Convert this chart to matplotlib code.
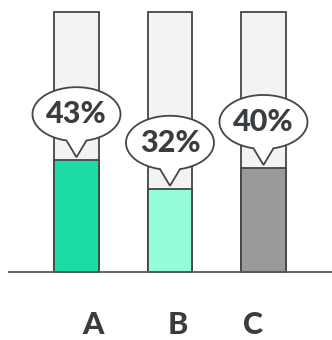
import numpy as np
import matplotlib.pyplot as plt
from matplotlib.path import Path
from matplotlib.patches import PathPatch
from matplotlib.transforms import Affine2D, ScaledTranslation

categories = ["A", "B", "C"]
values = [43, 32, 40]
total = [100, 100, 100]
colors = ["#1bdca2", "#94fddb", "#9a9a9a"]
label_shift = [16, 8, -10]   # px, category labels sit a bit off-centre

edge = "#454545"
txt = "#3a3d40"
font = "Lato"

fig = plt.figure(figsize=(3.32, 3.4), dpi=100)
ax = fig.add_axes([0, 0, 1, 1])
ax.set_xlim(-0.818, 2.733)
ax.set_ylim(-26.15, 104.6)
ax.axis("off")

x = np.arange(len(categories))
ax.bar(x, total, width=0.48, color="#f3f3f3", edgecolor=edge, linewidth=1.3, zorder=2)
ax.bar(x, values, width=0.48, color=colors, edgecolor=edge, linewidth=1.3, zorder=3)
ax.plot([-0.733, 2.733], [0, 0], color="#5a5a5a", lw=1.3, zorder=4, solid_capstyle="butt")

# speech bubble shape in pixels, tip at origin
a, b, cy, hw = 44, 27, 46, 10
t0 = -np.arccos(hw / a)
t1 = 2 * np.pi - np.arccos(-hw / a)
t = np.linspace(t0, t1, 200)
verts = list(zip(a * np.cos(t), cy + b * np.sin(t))) + [(0, 3), (a * np.cos(t0), cy + b * np.sin(t0))]
codes = [Path.MOVETO] + [Path.LINETO] * (len(verts) - 2) + [Path.CLOSEPOLY]
bubble = Path(verts, codes)

for i, v in enumerate(values):
    tr = Affine2D() + ScaledTranslation(x[i], v, ax.transData)
    ax.add_patch(PathPatch(bubble, facecolor="white", edgecolor=edge, lw=1.3, transform=tr, zorder=5))
    ax.annotate(f"{v}%", xy=(x[i], v), xytext=(0, cy * 0.72), textcoords="offset points",
                ha="center", va="center", fontsize=22, fontweight=900,
                color=txt, family=font, zorder=6)
    ax.annotate(categories[i], xy=(x[i], 0), xytext=(label_shift[i] * 0.72, -38),
                textcoords="offset points", ha="center", va="center", fontsize=22,
                fontweight=900, color=txt, family=font)

fig.savefig("out.png", dpi=100)
